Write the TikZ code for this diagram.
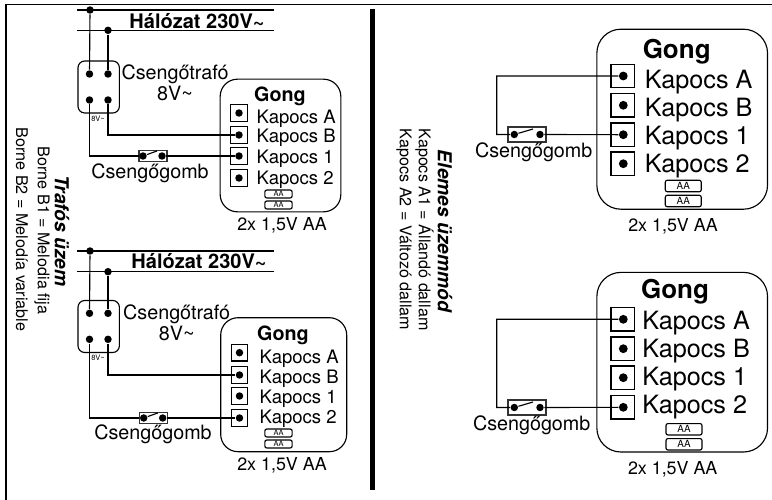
\documentclass[tikz,border=0pt]{standalone}
\usepackage{fontspec}
\setmainfont{TeX Gyre Heros}
\begin{document}
\begin{tikzpicture}[x=0.75pt,y=-0.75pt,line width=0.85pt]
		\tikzstyle{txt}=[inner sep=0pt,font=\fontsize{13.9}{15}\selectfont]
		\tikzstyle{captxt}=[inner sep=0pt,font=\fontsize{14.8}{16}\selectfont]
		\tikzstyle{volt}=[inner sep=0pt,font=\fontsize{13.4}{15}\selectfont]
		\tikzstyle{txtbig}=[inner sep=0pt,font=\fontsize{18.9}{20}\selectfont]
		\tikzstyle{head}=[inner sep=0pt,font=\fontsize{14.8}{16}\selectfont\bfseries]
		\tikzstyle{mains}=[inner sep=0pt,font=\fontsize{15}{16}\selectfont\bfseries]
		\tikzstyle{headbig}=[inner sep=0pt,font=\fontsize{19.5}{21}\selectfont\bfseries]
		\tikzstyle{side}=[inner sep=0pt,rotate=-90,font=\fontsize{12.1}{13}\selectfont]
		\tikzstyle{sidehead}=[inner sep=0pt,rotate=-90,font=\fontsize{14.4}{15}\selectfont\bfseries\itshape]
		\tikzstyle{tiny}=[inner sep=0pt,font=\fontsize{5.6}{6}\selectfont]
		\tikzstyle{dot}=[circle,fill=black,inner sep=0pt,minimum size=5.6pt]
		\tikzstyle{dotbig}=[circle,fill=black,inner sep=0pt,minimum size=6.6pt]
		\tikzstyle{klemme}=[draw,inner sep=0pt,minimum size=12.4pt]
		\tikzstyle{klemmebig}=[draw,inner sep=0pt,minimum size=17.6pt]
		\tikzstyle{akku}=[draw,rounded corners=1.5pt,inner sep=0pt,minimum width=20.5pt,minimum height=6pt,tiny]
		\tikzstyle{akkubig}=[draw,rounded corners=1.5pt,inner sep=0pt,minimum width=27pt,minimum height=8.6pt,font=\fontsize{7.4}{8}\selectfont]
		\tikzstyle{gong}=[draw,rounded corners=13pt,inner sep=0pt]
		\tikzstyle{gerat}=[draw,rounded corners=5pt,inner sep=0pt,minimum width=31pt,minimum height=39pt]
		\tikzstyle{taster}=[draw=black!80,line width=1.1pt,inner sep=0pt]

		% frame and divider
		\coordinate (f-a) at (6,500);
		\coordinate (f-b) at (6,4.5);
		\coordinate (f-c) at (772,4.5);
		\coordinate (bar-a) at (372.3,9);
		\coordinate (bar-b) at (372.3,490);
		\useasboundingbox (0,0) rectangle (772,500);
		\draw[line width=0.9pt] (f-a) -- (f-b) -- (f-c);
		\draw[line width=4.2pt] (bar-a) -- (bar-b);

		% side notes
		\node[sidehead] (n-t) at (62,231) {Trafós üzem};
		\node[side] (n-b1) at (42,230.5) {Borne B1 = Melodia fija};
		\node[side] (n-b2) at (22,229.5) {Borne B2 = Melodía variable};
		\node[sidehead] (n-e) at (445,231) {Elemes üzemmód};
		\node[side] (n-a1) at (424.5,229.5) {Kapocs A1 = Állandó dallam};
		\node[side] (n-a2) at (404,229.5) {Kapocs A2 = Változó dallam};

		% gong boxes
		\node[gong,minimum width=90.5pt,minimum height=99.5pt] (g-1) at (280.5,145.5) {};
		\node[gong,minimum width=94.5pt,minimum height=100.5pt] (g-2) at (283.7,384.7) {};
		\node[gong,rounded corners=18pt,minimum width=128pt,minimum height=135pt] (g-3) at (682.2,119.2) {};
		\node[gong,rounded corners=18pt,minimum width=128pt,minimum height=134.7pt] (g-4) at (682.2,362.2) {};
		\node[head] (g-1-t) at (280,96) {Gong};
		\node[head] (g-2-t) at (283,335) {Gong};
		\node[headbig] (g-3-t) at (676.7,52) {Gong};
		\node[headbig] (g-4-t) at (675,292) {Gong};

		% terminals of the small gongs
		\foreach \g/\xk/\xt/\ya/\yb/\yc/\yd/\ba/\bb/\bc/\bd in {1/239/256/113/135/156/178/123/142/163/184,2/239.5/259/352.7/375/396/418/363/383/403/423}
		{
		\foreach \k/\y/\b in {A/\ya/\ba,B/\yb/\bb,1/\yc/\bc,2/\yd/\bd}
		{
		\node[klemme] (k-\g-\k) at (\xk,\y) {};
		\node[dot] (d-\g-\k) at (\xk,\y) {};
		\node[txt,anchor=base west] (l-\g-\k) at (\xt,\b) {Kapocs \k};
		}
		}
		% terminals of the big gongs
		\foreach \g/\xt/\ya/\yb/\yc/\yd/\ba/\bb/\bc/\bd in {3/644.3/76/105.3/134.7/163.7/88/116/144/172,4/641.7/319.3/348.7/377.7/407.3/329/357.5/385/413}
		{
		\foreach \k/\y/\b in {A/\ya/\ba,B/\yb/\bb,1/\yc/\bc,2/\yd/\bd}
		{
		\node[klemmebig] (k-\g-\k) at (622.7,\y) {};
		\node[dotbig] (d-\g-\k) at (623.3,\y) {};
		\node[txtbig,anchor=base west] (l-\g-\k) at (\xt,\b) {Kapocs \k};
		}
		}

		% batteries
		\node[akku] (a-1-1) at (278.5,194) {AA};
		\node[akku] (a-1-2) at (278.5,205) {AA};
		\node[akku] (a-2-1) at (278.5,433) {AA};
		\node[akku] (a-2-2) at (278.5,444) {AA};
		\node[akkubig] (a-3-1) at (683.3,186) {AA};
		\node[akkubig] (a-3-2) at (683.3,201) {AA};
		\node[akkubig] (a-4-1) at (684,429.3) {AA};
		\node[akkubig] (a-4-2) at (684,444.3) {AA};
		\node[volt] (v-1) at (282,225) {2x 1,5V AA};
		\node[volt] (v-2) at (282,465) {2x 1,5V AA};
		\node[volt] (v-3) at (673,226.7) {2x 1,5V AA};
		\node[volt] (v-4) at (672.7,469.3) {2x 1,5V AA};

		% push buttons
		\foreach \g/\x/\xl/\xr/\y/\xe/\ye in {1/153/143/162/156/150/173,2/153.3/143.7/162.7/418/153/434}
		{
		\node[taster,minimum width=21pt,minimum height=8pt] (s-\g) at (\x,\y) {};
		\node[dot] (s-\g-l) at (\xl,\y) {};
		\node[dot] (s-\g-r) at (\xr,\y) {};
		\coordinate (s-\g-arm) at (\xl+14,\y-5);
		\draw (s-\g-l) -- (s-\g-arm);
		\node[captxt] (s-\g-t) at (\xe,\ye) {Csengőgomb};
		}
		\foreach \g/\y/\xe/\ye in {3/134.5/533.7/152.3,4/407.5/531.7/425.7}
		{
		\node[taster,minimum width=28.5pt,minimum height=11pt] (s-\g) at (527,\y) {};
		\node[dot] (s-\g-l) at (514.3,\y) {};
		\node[dot] (s-\g-r) at (540,\y) {};
		\coordinate (s-\g-arm) at (533,\y-5.5);
		\draw (s-\g-l) -- (s-\g-arm);
		\node[captxt] (s-\g-t) at (\xe,\ye) {Csengőgomb};
		}

		% transformers with the mains
		\foreach \g/\ya/\yb/\yc/\yd/\ym/\xh/\yh/\xc/\yt/\yv/\yk in {1/10/30.3/74/100/87/197/21/175/74/93/119,2/251/271.7/313.3/339.3/326.5/199/260.7/176.7/314.3/333/357.7}
		{
		\coordinate (m-\g-a1) at (77,\ya);
		\coordinate (m-\g-a2) at (274,\ya);
		\coordinate (m-\g-b1) at (77,\yb);
		\coordinate (m-\g-b2) at (274,\yb);
		\draw (m-\g-a1) -- (m-\g-a2);
		\draw (m-\g-b1) -- (m-\g-b2);
		\node[dot] (m-\g-a) at (90,\ya) {};
		\node[dot] (m-\g-b) at (108,\yb) {};
		\node[gerat] (t-\g) at (98.7,\ym) {};
		\node[dot] (t-\g-a) at (89.5,\yc) {};
		\node[dot] (t-\g-b) at (108,\yc) {};
		\node[dot] (t-\g-c) at (89.5,\yd) {};
		\node[dot] (t-\g-d) at (108,\yd) {};
		\draw (m-\g-a) -- (t-\g-a);
		\draw (m-\g-b) -- (t-\g-b);
		\node[mains] (h-\g) at (\xh,\yh) {Hálózat 230V\textasciitilde};
		\node[captxt] (t-\g-t) at (\xc,\yt) {Csengőtrafó};
		\node[captxt] (t-\g-v) at (\xc,\yv) {8V\textasciitilde};
		\node[tiny] (t-\g-k) at (98,\yk) {8V\textasciitilde};
		}

		% wiring
		\path[draw] (t-1-d) |- (d-1-B)
		(t-1-c) |- (s-1-l)
		(s-1-r) -- (d-1-1)
		(t-2-d) |- (d-2-B)
		(t-2-c) |- (s-2-l)
		(s-2-r) -- (d-2-2);
		\coordinate (w-3) at (496.7,76);
		\coordinate (w-4) at (496.7,319.3);
		\path[draw] (d-3-A) -- (w-3) |- (s-3-l)
		(s-3-r) -- (d-3-1)
		(d-4-A) -- (w-4) |- (s-4-l)
		(s-4-r) -- (d-4-2);
\end{tikzpicture}
\end{document}
